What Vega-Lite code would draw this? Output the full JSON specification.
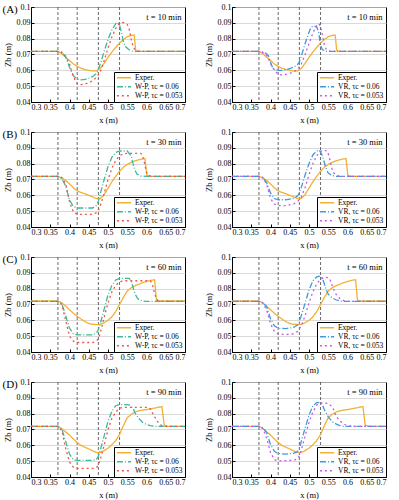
{
"$schema":"https://vega.github.io/schema/vega-lite/v6.json",
"padding":{"left":2,"top":2,"right":4,"bottom":2},
"datasets":{
"vlines":[{"x":0.37},{"x":0.42},{"x":0.475},{"x":0.53}],
"profiles":[
{"t":10,"s":"E","x":0.3,"z":0.072},{"t":10,"s":"E","x":0.37,"z":0.072},{"t":10,"s":"E","x":0.38,"z":0.0705},{"t":10,"s":"E","x":0.39,"z":0.0683},{"t":10,"s":"E","x":0.4,"z":0.0662},{"t":10,"s":"E","x":0.41,"z":0.064},{"t":10,"s":"E","x":0.42,"z":0.0625},{"t":10,"s":"E","x":0.43,"z":0.0613},{"t":10,"s":"E","x":0.44,"z":0.0605},{"t":10,"s":"E","x":0.45,"z":0.06},{"t":10,"s":"E","x":0.46,"z":0.0596},{"t":10,"s":"E","x":0.47,"z":0.0597},{"t":10,"s":"E","x":0.48,"z":0.0612},{"t":10,"s":"E","x":0.49,"z":0.0645},{"t":10,"s":"E","x":0.5,"z":0.0682},{"t":10,"s":"E","x":0.51,"z":0.0715},{"t":10,"s":"E","x":0.52,"z":0.0745},{"t":10,"s":"E","x":0.53,"z":0.0772},{"t":10,"s":"E","x":0.54,"z":0.0795},{"t":10,"s":"E","x":0.55,"z":0.0812},{"t":10,"s":"E","x":0.56,"z":0.0821},{"t":10,"s":"E","x":0.568,"z":0.0823},{"t":10,"s":"E","x":0.572,"z":0.0725},{"t":10,"s":"E","x":0.58,"z":0.072},{"t":10,"s":"E","x":0.7,"z":0.072},
{"t":10,"s":"W6","x":0.3,"z":0.072},{"t":10,"s":"W6","x":0.37,"z":0.072},{"t":10,"s":"W6","x":0.38,"z":0.0715},{"t":10,"s":"W6","x":0.39,"z":0.0685},{"t":10,"s":"W6","x":0.4,"z":0.062},{"t":10,"s":"W6","x":0.41,"z":0.0565},{"t":10,"s":"W6","x":0.42,"z":0.0545},{"t":10,"s":"W6","x":0.43,"z":0.054},{"t":10,"s":"W6","x":0.44,"z":0.0543},{"t":10,"s":"W6","x":0.45,"z":0.055},{"t":10,"s":"W6","x":0.46,"z":0.056},{"t":10,"s":"W6","x":0.47,"z":0.058},{"t":10,"s":"W6","x":0.475,"z":0.0605},{"t":10,"s":"W6","x":0.48,"z":0.064},{"t":10,"s":"W6","x":0.49,"z":0.072},{"t":10,"s":"W6","x":0.5,"z":0.0795},{"t":10,"s":"W6","x":0.51,"z":0.0855},{"t":10,"s":"W6","x":0.52,"z":0.0895},{"t":10,"s":"W6","x":0.525,"z":0.0903},{"t":10,"s":"W6","x":0.53,"z":0.0885},{"t":10,"s":"W6","x":0.535,"z":0.084},{"t":10,"s":"W6","x":0.54,"z":0.078},{"t":10,"s":"W6","x":0.545,"z":0.075},{"t":10,"s":"W6","x":0.555,"z":0.073},{"t":10,"s":"W6","x":0.565,"z":0.072},{"t":10,"s":"W6","x":0.7,"z":0.072},
{"t":10,"s":"W5","x":0.3,"z":0.072},{"t":10,"s":"W5","x":0.375,"z":0.072},{"t":10,"s":"W5","x":0.38,"z":0.0712},{"t":10,"s":"W5","x":0.39,"z":0.069},{"t":10,"s":"W5","x":0.4,"z":0.064},{"t":10,"s":"W5","x":0.41,"z":0.056},{"t":10,"s":"W5","x":0.42,"z":0.0515},{"t":10,"s":"W5","x":0.43,"z":0.051},{"t":10,"s":"W5","x":0.44,"z":0.0515},{"t":10,"s":"W5","x":0.45,"z":0.052},{"t":10,"s":"W5","x":0.46,"z":0.0535},{"t":10,"s":"W5","x":0.47,"z":0.0555},{"t":10,"s":"W5","x":0.48,"z":0.059},{"t":10,"s":"W5","x":0.49,"z":0.066},{"t":10,"s":"W5","x":0.5,"z":0.074},{"t":10,"s":"W5","x":0.51,"z":0.081},{"t":10,"s":"W5","x":0.52,"z":0.0865},{"t":10,"s":"W5","x":0.53,"z":0.0898},{"t":10,"s":"W5","x":0.54,"z":0.0902},{"t":10,"s":"W5","x":0.55,"z":0.089},{"t":10,"s":"W5","x":0.555,"z":0.086},{"t":10,"s":"W5","x":0.56,"z":0.08},{"t":10,"s":"W5","x":0.565,"z":0.075},{"t":10,"s":"W5","x":0.57,"z":0.073},{"t":10,"s":"W5","x":0.58,"z":0.072},{"t":10,"s":"W5","x":0.7,"z":0.072},
{"t":10,"s":"V6","x":0.3,"z":0.072},{"t":10,"s":"V6","x":0.37,"z":0.072},{"t":10,"s":"V6","x":0.38,"z":0.0715},{"t":10,"s":"V6","x":0.39,"z":0.0705},{"t":10,"s":"V6","x":0.395,"z":0.069},{"t":10,"s":"V6","x":0.4,"z":0.065},{"t":10,"s":"V6","x":0.405,"z":0.062},{"t":10,"s":"V6","x":0.41,"z":0.0605},{"t":10,"s":"V6","x":0.42,"z":0.06},{"t":10,"s":"V6","x":0.43,"z":0.06},{"t":10,"s":"V6","x":0.44,"z":0.0605},{"t":10,"s":"V6","x":0.45,"z":0.061},{"t":10,"s":"V6","x":0.46,"z":0.062},{"t":10,"s":"V6","x":0.47,"z":0.0635},{"t":10,"s":"V6","x":0.475,"z":0.0655},{"t":10,"s":"V6","x":0.48,"z":0.069},{"t":10,"s":"V6","x":0.49,"z":0.077},{"t":10,"s":"V6","x":0.5,"z":0.084},{"t":10,"s":"V6","x":0.505,"z":0.087},{"t":10,"s":"V6","x":0.51,"z":0.088},{"t":10,"s":"V6","x":0.52,"z":0.0875},{"t":10,"s":"V6","x":0.525,"z":0.084},{"t":10,"s":"V6","x":0.53,"z":0.076},{"t":10,"s":"V6","x":0.535,"z":0.073},{"t":10,"s":"V6","x":0.545,"z":0.072},{"t":10,"s":"V6","x":0.7,"z":0.072},
{"t":10,"s":"V5","x":0.3,"z":0.072},{"t":10,"s":"V5","x":0.37,"z":0.072},{"t":10,"s":"V5","x":0.38,"z":0.0712},{"t":10,"s":"V5","x":0.39,"z":0.0695},{"t":10,"s":"V5","x":0.4,"z":0.0645},{"t":10,"s":"V5","x":0.41,"z":0.06},{"t":10,"s":"V5","x":0.42,"z":0.0575},{"t":10,"s":"V5","x":0.43,"z":0.057},{"t":10,"s":"V5","x":0.44,"z":0.0575},{"t":10,"s":"V5","x":0.45,"z":0.058},{"t":10,"s":"V5","x":0.46,"z":0.059},{"t":10,"s":"V5","x":0.47,"z":0.0605},{"t":10,"s":"V5","x":0.48,"z":0.064},{"t":10,"s":"V5","x":0.49,"z":0.07},{"t":10,"s":"V5","x":0.5,"z":0.077},{"t":10,"s":"V5","x":0.51,"z":0.0835},{"t":10,"s":"V5","x":0.52,"z":0.0885},{"t":10,"s":"V5","x":0.525,"z":0.0895},{"t":10,"s":"V5","x":0.53,"z":0.088},{"t":10,"s":"V5","x":0.535,"z":0.082},{"t":10,"s":"V5","x":0.54,"z":0.076},{"t":10,"s":"V5","x":0.545,"z":0.073},{"t":10,"s":"V5","x":0.555,"z":0.072},{"t":10,"s":"V5","x":0.7,"z":0.072},

{"t":30,"s":"E","x":0.3,"z":0.072},{"t":30,"s":"E","x":0.37,"z":0.072},{"t":30,"s":"E","x":0.38,"z":0.071},{"t":30,"s":"E","x":0.39,"z":0.0695},{"t":30,"s":"E","x":0.4,"z":0.0672},{"t":30,"s":"E","x":0.41,"z":0.0648},{"t":30,"s":"E","x":0.42,"z":0.0628},{"t":30,"s":"E","x":0.43,"z":0.0618},{"t":30,"s":"E","x":0.44,"z":0.061},{"t":30,"s":"E","x":0.45,"z":0.06},{"t":30,"s":"E","x":0.46,"z":0.059},{"t":30,"s":"E","x":0.47,"z":0.058},{"t":30,"s":"E","x":0.48,"z":0.058},{"t":30,"s":"E","x":0.49,"z":0.0605},{"t":30,"s":"E","x":0.5,"z":0.0645},{"t":30,"s":"E","x":0.51,"z":0.0685},{"t":30,"s":"E","x":0.52,"z":0.072},{"t":30,"s":"E","x":0.53,"z":0.0752},{"t":30,"s":"E","x":0.54,"z":0.0778},{"t":30,"s":"E","x":0.55,"z":0.0795},{"t":30,"s":"E","x":0.56,"z":0.0808},{"t":30,"s":"E","x":0.57,"z":0.0818},{"t":30,"s":"E","x":0.58,"z":0.0825},{"t":30,"s":"E","x":0.59,"z":0.083},{"t":30,"s":"E","x":0.596,"z":0.0832},{"t":30,"s":"E","x":0.601,"z":0.0725},{"t":30,"s":"E","x":0.61,"z":0.072},{"t":30,"s":"E","x":0.7,"z":0.072},
{"t":30,"s":"W6","x":0.3,"z":0.072},{"t":30,"s":"W6","x":0.37,"z":0.072},{"t":30,"s":"W6","x":0.38,"z":0.0705},{"t":30,"s":"W6","x":0.39,"z":0.066},{"t":30,"s":"W6","x":0.4,"z":0.057},{"t":30,"s":"W6","x":0.41,"z":0.053},{"t":30,"s":"W6","x":0.42,"z":0.052},{"t":30,"s":"W6","x":0.46,"z":0.052},{"t":30,"s":"W6","x":0.47,"z":0.0535},{"t":30,"s":"W6","x":0.475,"z":0.0565},{"t":30,"s":"W6","x":0.48,"z":0.061},{"t":30,"s":"W6","x":0.49,"z":0.07},{"t":30,"s":"W6","x":0.5,"z":0.078},{"t":30,"s":"W6","x":0.51,"z":0.084},{"t":30,"s":"W6","x":0.52,"z":0.087},{"t":30,"s":"W6","x":0.53,"z":0.088},{"t":30,"s":"W6","x":0.55,"z":0.088},{"t":30,"s":"W6","x":0.56,"z":0.085},{"t":30,"s":"W6","x":0.565,"z":0.08},{"t":30,"s":"W6","x":0.57,"z":0.076},{"t":30,"s":"W6","x":0.575,"z":0.0735},{"t":30,"s":"W6","x":0.585,"z":0.0722},{"t":30,"s":"W6","x":0.6,"z":0.072},{"t":30,"s":"W6","x":0.7,"z":0.072},
{"t":30,"s":"W5","x":0.3,"z":0.072},{"t":30,"s":"W5","x":0.375,"z":0.072},{"t":30,"s":"W5","x":0.38,"z":0.0712},{"t":30,"s":"W5","x":0.39,"z":0.0675},{"t":30,"s":"W5","x":0.4,"z":0.056},{"t":30,"s":"W5","x":0.41,"z":0.0495},{"t":30,"s":"W5","x":0.42,"z":0.048},{"t":30,"s":"W5","x":0.46,"z":0.048},{"t":30,"s":"W5","x":0.47,"z":0.049},{"t":30,"s":"W5","x":0.475,"z":0.0505},{"t":30,"s":"W5","x":0.48,"z":0.0535},{"t":30,"s":"W5","x":0.49,"z":0.061},{"t":30,"s":"W5","x":0.5,"z":0.07},{"t":30,"s":"W5","x":0.51,"z":0.077},{"t":30,"s":"W5","x":0.52,"z":0.082},{"t":30,"s":"W5","x":0.53,"z":0.085},{"t":30,"s":"W5","x":0.54,"z":0.0862},{"t":30,"s":"W5","x":0.55,"z":0.0865},{"t":30,"s":"W5","x":0.585,"z":0.0865},{"t":30,"s":"W5","x":0.59,"z":0.085},{"t":30,"s":"W5","x":0.595,"z":0.08},{"t":30,"s":"W5","x":0.6,"z":0.0745},{"t":30,"s":"W5","x":0.605,"z":0.0725},{"t":30,"s":"W5","x":0.615,"z":0.072},{"t":30,"s":"W5","x":0.7,"z":0.072},
{"t":30,"s":"V6","x":0.3,"z":0.072},{"t":30,"s":"V6","x":0.375,"z":0.072},{"t":30,"s":"V6","x":0.38,"z":0.0712},{"t":30,"s":"V6","x":0.39,"z":0.068},{"t":30,"s":"V6","x":0.4,"z":0.0615},{"t":30,"s":"V6","x":0.41,"z":0.058},{"t":30,"s":"V6","x":0.42,"z":0.0572},{"t":30,"s":"V6","x":0.44,"z":0.0572},{"t":30,"s":"V6","x":0.46,"z":0.058},{"t":30,"s":"V6","x":0.47,"z":0.0595},{"t":30,"s":"V6","x":0.475,"z":0.0615},{"t":30,"s":"V6","x":0.48,"z":0.065},{"t":30,"s":"V6","x":0.49,"z":0.073},{"t":30,"s":"V6","x":0.5,"z":0.08},{"t":30,"s":"V6","x":0.51,"z":0.0855},{"t":30,"s":"V6","x":0.52,"z":0.088},{"t":30,"s":"V6","x":0.527,"z":0.0885},{"t":30,"s":"V6","x":0.535,"z":0.085},{"t":30,"s":"V6","x":0.543,"z":0.078},{"t":30,"s":"V6","x":0.55,"z":0.074},{"t":30,"s":"V6","x":0.56,"z":0.0725},{"t":30,"s":"V6","x":0.57,"z":0.072},{"t":30,"s":"V6","x":0.7,"z":0.072},
{"t":30,"s":"V5","x":0.3,"z":0.072},{"t":30,"s":"V5","x":0.375,"z":0.072},{"t":30,"s":"V5","x":0.38,"z":0.0712},{"t":30,"s":"V5","x":0.39,"z":0.067},{"t":30,"s":"V5","x":0.4,"z":0.058},{"t":30,"s":"V5","x":0.41,"z":0.0545},{"t":30,"s":"V5","x":0.42,"z":0.0535},{"t":30,"s":"V5","x":0.44,"z":0.0535},{"t":30,"s":"V5","x":0.46,"z":0.0545},{"t":30,"s":"V5","x":0.47,"z":0.056},{"t":30,"s":"V5","x":0.48,"z":0.059},{"t":30,"s":"V5","x":0.49,"z":0.065},{"t":30,"s":"V5","x":0.5,"z":0.073},{"t":30,"s":"V5","x":0.51,"z":0.08},{"t":30,"s":"V5","x":0.52,"z":0.085},{"t":30,"s":"V5","x":0.53,"z":0.0878},{"t":30,"s":"V5","x":0.54,"z":0.0885},{"t":30,"s":"V5","x":0.548,"z":0.0878},{"t":30,"s":"V5","x":0.553,"z":0.084},{"t":30,"s":"V5","x":0.558,"z":0.078},{"t":30,"s":"V5","x":0.563,"z":0.0745},{"t":30,"s":"V5","x":0.57,"z":0.0728},{"t":30,"s":"V5","x":0.58,"z":0.072},{"t":30,"s":"V5","x":0.7,"z":0.072},

{"t":60,"s":"E","x":0.3,"z":0.0722},{"t":60,"s":"E","x":0.37,"z":0.0722},{"t":60,"s":"E","x":0.38,"z":0.071},{"t":60,"s":"E","x":0.39,"z":0.069},{"t":60,"s":"E","x":0.4,"z":0.0667},{"t":60,"s":"E","x":0.41,"z":0.0645},{"t":60,"s":"E","x":0.42,"z":0.0625},{"t":60,"s":"E","x":0.43,"z":0.0608},{"t":60,"s":"E","x":0.44,"z":0.0592},{"t":60,"s":"E","x":0.45,"z":0.058},{"t":60,"s":"E","x":0.46,"z":0.0575},{"t":60,"s":"E","x":0.47,"z":0.0573},{"t":60,"s":"E","x":0.48,"z":0.0575},{"t":60,"s":"E","x":0.49,"z":0.0585},{"t":60,"s":"E","x":0.5,"z":0.06},{"t":60,"s":"E","x":0.51,"z":0.0622},{"t":60,"s":"E","x":0.52,"z":0.0655},{"t":60,"s":"E","x":0.53,"z":0.07},{"t":60,"s":"E","x":0.54,"z":0.0745},{"t":60,"s":"E","x":0.55,"z":0.0785},{"t":60,"s":"E","x":0.56,"z":0.0805},{"t":60,"s":"E","x":0.57,"z":0.0818},{"t":60,"s":"E","x":0.58,"z":0.0828},{"t":60,"s":"E","x":0.59,"z":0.0838},{"t":60,"s":"E","x":0.6,"z":0.0845},{"t":60,"s":"E","x":0.61,"z":0.0852},{"t":60,"s":"E","x":0.621,"z":0.0856},{"t":60,"s":"E","x":0.626,"z":0.0725},{"t":60,"s":"E","x":0.635,"z":0.0722},{"t":60,"s":"E","x":0.7,"z":0.0722},
{"t":60,"s":"W6","x":0.3,"z":0.072},{"t":60,"s":"W6","x":0.37,"z":0.072},{"t":60,"s":"W6","x":0.38,"z":0.0705},{"t":60,"s":"W6","x":0.39,"z":0.063},{"t":60,"s":"W6","x":0.4,"z":0.055},{"t":60,"s":"W6","x":0.41,"z":0.0515},{"t":60,"s":"W6","x":0.42,"z":0.0508},{"t":60,"s":"W6","x":0.46,"z":0.0508},{"t":60,"s":"W6","x":0.47,"z":0.052},{"t":60,"s":"W6","x":0.475,"z":0.054},{"t":60,"s":"W6","x":0.48,"z":0.058},{"t":60,"s":"W6","x":0.49,"z":0.067},{"t":60,"s":"W6","x":0.5,"z":0.076},{"t":60,"s":"W6","x":0.51,"z":0.082},{"t":60,"s":"W6","x":0.52,"z":0.0855},{"t":60,"s":"W6","x":0.53,"z":0.0865},{"t":60,"s":"W6","x":0.555,"z":0.0865},{"t":60,"s":"W6","x":0.56,"z":0.085},{"t":60,"s":"W6","x":0.565,"z":0.081},{"t":60,"s":"W6","x":0.57,"z":0.077},{"t":60,"s":"W6","x":0.575,"z":0.0745},{"t":60,"s":"W6","x":0.58,"z":0.073},{"t":60,"s":"W6","x":0.59,"z":0.0722},{"t":60,"s":"W6","x":0.6,"z":0.072},{"t":60,"s":"W6","x":0.7,"z":0.072},
{"t":60,"s":"W5","x":0.3,"z":0.072},{"t":60,"s":"W5","x":0.37,"z":0.072},{"t":60,"s":"W5","x":0.38,"z":0.07},{"t":60,"s":"W5","x":0.39,"z":0.06},{"t":60,"s":"W5","x":0.4,"z":0.05},{"t":60,"s":"W5","x":0.41,"z":0.0468},{"t":60,"s":"W5","x":0.42,"z":0.046},{"t":60,"s":"W5","x":0.46,"z":0.046},{"t":60,"s":"W5","x":0.47,"z":0.0468},{"t":60,"s":"W5","x":0.475,"z":0.0485},{"t":60,"s":"W5","x":0.48,"z":0.052},{"t":60,"s":"W5","x":0.49,"z":0.062},{"t":60,"s":"W5","x":0.5,"z":0.071},{"t":60,"s":"W5","x":0.51,"z":0.078},{"t":60,"s":"W5","x":0.52,"z":0.082},{"t":60,"s":"W5","x":0.53,"z":0.0843},{"t":60,"s":"W5","x":0.54,"z":0.085},{"t":60,"s":"W5","x":0.61,"z":0.085},{"t":60,"s":"W5","x":0.615,"z":0.083},{"t":60,"s":"W5","x":0.62,"z":0.078},{"t":60,"s":"W5","x":0.625,"z":0.074},{"t":60,"s":"W5","x":0.63,"z":0.0725},{"t":60,"s":"W5","x":0.64,"z":0.072},{"t":60,"s":"W5","x":0.7,"z":0.072},
{"t":60,"s":"V6","x":0.3,"z":0.072},{"t":60,"s":"V6","x":0.37,"z":0.072},{"t":60,"s":"V6","x":0.38,"z":0.0712},{"t":60,"s":"V6","x":0.39,"z":0.0685},{"t":60,"s":"V6","x":0.4,"z":0.061},{"t":60,"s":"V6","x":0.41,"z":0.0565},{"t":60,"s":"V6","x":0.42,"z":0.055},{"t":60,"s":"V6","x":0.44,"z":0.0548},{"t":60,"s":"V6","x":0.46,"z":0.0555},{"t":60,"s":"V6","x":0.47,"z":0.057},{"t":60,"s":"V6","x":0.475,"z":0.059},{"t":60,"s":"V6","x":0.48,"z":0.063},{"t":60,"s":"V6","x":0.49,"z":0.071},{"t":60,"s":"V6","x":0.5,"z":0.079},{"t":60,"s":"V6","x":0.51,"z":0.085},{"t":60,"s":"V6","x":0.52,"z":0.0875},{"t":60,"s":"V6","x":0.53,"z":0.088},{"t":60,"s":"V6","x":0.535,"z":0.0865},{"t":60,"s":"V6","x":0.54,"z":0.083},{"t":60,"s":"V6","x":0.545,"z":0.079},{"t":60,"s":"V6","x":0.55,"z":0.0765},{"t":60,"s":"V6","x":0.56,"z":0.0742},{"t":60,"s":"V6","x":0.57,"z":0.073},{"t":60,"s":"V6","x":0.58,"z":0.0722},{"t":60,"s":"V6","x":0.59,"z":0.072},{"t":60,"s":"V6","x":0.7,"z":0.072},
{"t":60,"s":"V5","x":0.3,"z":0.072},{"t":60,"s":"V5","x":0.37,"z":0.072},{"t":60,"s":"V5","x":0.38,"z":0.071},{"t":60,"s":"V5","x":0.39,"z":0.0665},{"t":60,"s":"V5","x":0.4,"z":0.058},{"t":60,"s":"V5","x":0.41,"z":0.053},{"t":60,"s":"V5","x":0.42,"z":0.0515},{"t":60,"s":"V5","x":0.44,"z":0.051},{"t":60,"s":"V5","x":0.46,"z":0.0515},{"t":60,"s":"V5","x":0.47,"z":0.053},{"t":60,"s":"V5","x":0.48,"z":0.0565},{"t":60,"s":"V5","x":0.49,"z":0.063},{"t":60,"s":"V5","x":0.5,"z":0.071},{"t":60,"s":"V5","x":0.51,"z":0.078},{"t":60,"s":"V5","x":0.52,"z":0.083},{"t":60,"s":"V5","x":0.53,"z":0.086},{"t":60,"s":"V5","x":0.54,"z":0.0872},{"t":60,"s":"V5","x":0.55,"z":0.087},{"t":60,"s":"V5","x":0.555,"z":0.0855},{"t":60,"s":"V5","x":0.56,"z":0.082},{"t":60,"s":"V5","x":0.565,"z":0.079},{"t":60,"s":"V5","x":0.57,"z":0.0765},{"t":60,"s":"V5","x":0.58,"z":0.0738},{"t":60,"s":"V5","x":0.59,"z":0.0725},{"t":60,"s":"V5","x":0.6,"z":0.072},{"t":60,"s":"V5","x":0.7,"z":0.072},

{"t":90,"s":"E","x":0.3,"z":0.072},{"t":90,"s":"E","x":0.37,"z":0.072},{"t":90,"s":"E","x":0.38,"z":0.0705},{"t":90,"s":"E","x":0.39,"z":0.0685},{"t":90,"s":"E","x":0.4,"z":0.0665},{"t":90,"s":"E","x":0.41,"z":0.064},{"t":90,"s":"E","x":0.42,"z":0.0617},{"t":90,"s":"E","x":0.43,"z":0.06},{"t":90,"s":"E","x":0.44,"z":0.0588},{"t":90,"s":"E","x":0.45,"z":0.0577},{"t":90,"s":"E","x":0.46,"z":0.0565},{"t":90,"s":"E","x":0.47,"z":0.0555},{"t":90,"s":"E","x":0.475,"z":0.0553},{"t":90,"s":"E","x":0.48,"z":0.0555},{"t":90,"s":"E","x":0.49,"z":0.0567},{"t":90,"s":"E","x":0.5,"z":0.0582},{"t":90,"s":"E","x":0.51,"z":0.0603},{"t":90,"s":"E","x":0.52,"z":0.063},{"t":90,"s":"E","x":0.53,"z":0.0668},{"t":90,"s":"E","x":0.54,"z":0.0725},{"t":90,"s":"E","x":0.55,"z":0.0775},{"t":90,"s":"E","x":0.56,"z":0.0795},{"t":90,"s":"E","x":0.57,"z":0.081},{"t":90,"s":"E","x":0.58,"z":0.0818},{"t":90,"s":"E","x":0.59,"z":0.0823},{"t":90,"s":"E","x":0.6,"z":0.0826},{"t":90,"s":"E","x":0.61,"z":0.083},{"t":90,"s":"E","x":0.62,"z":0.0835},{"t":90,"s":"E","x":0.63,"z":0.084},{"t":90,"s":"E","x":0.64,"z":0.0845},{"t":90,"s":"E","x":0.646,"z":0.0728},{"t":90,"s":"E","x":0.655,"z":0.072},{"t":90,"s":"E","x":0.7,"z":0.072},
{"t":90,"s":"W6","x":0.3,"z":0.072},{"t":90,"s":"W6","x":0.37,"z":0.072},{"t":90,"s":"W6","x":0.38,"z":0.0705},{"t":90,"s":"W6","x":0.39,"z":0.0625},{"t":90,"s":"W6","x":0.4,"z":0.0545},{"t":90,"s":"W6","x":0.41,"z":0.051},{"t":90,"s":"W6","x":0.42,"z":0.0505},{"t":90,"s":"W6","x":0.46,"z":0.0505},{"t":90,"s":"W6","x":0.47,"z":0.0512},{"t":90,"s":"W6","x":0.475,"z":0.053},{"t":90,"s":"W6","x":0.48,"z":0.057},{"t":90,"s":"W6","x":0.49,"z":0.066},{"t":90,"s":"W6","x":0.5,"z":0.075},{"t":90,"s":"W6","x":0.51,"z":0.0815},{"t":90,"s":"W6","x":0.52,"z":0.085},{"t":90,"s":"W6","x":0.53,"z":0.0858},{"t":90,"s":"W6","x":0.555,"z":0.0855},{"t":90,"s":"W6","x":0.565,"z":0.0835},{"t":90,"s":"W6","x":0.57,"z":0.0805},{"t":90,"s":"W6","x":0.58,"z":0.077},{"t":90,"s":"W6","x":0.59,"z":0.0745},{"t":90,"s":"W6","x":0.6,"z":0.0732},{"t":90,"s":"W6","x":0.61,"z":0.0725},{"t":90,"s":"W6","x":0.62,"z":0.072},{"t":90,"s":"W6","x":0.7,"z":0.072},
{"t":90,"s":"W5","x":0.3,"z":0.072},{"t":90,"s":"W5","x":0.37,"z":0.072},{"t":90,"s":"W5","x":0.38,"z":0.0695},{"t":90,"s":"W5","x":0.39,"z":0.058},{"t":90,"s":"W5","x":0.4,"z":0.0495},{"t":90,"s":"W5","x":0.41,"z":0.0462},{"t":90,"s":"W5","x":0.42,"z":0.0455},{"t":90,"s":"W5","x":0.465,"z":0.0455},{"t":90,"s":"W5","x":0.47,"z":0.046},{"t":90,"s":"W5","x":0.475,"z":0.0475},{"t":90,"s":"W5","x":0.48,"z":0.051},{"t":90,"s":"W5","x":0.49,"z":0.06},{"t":90,"s":"W5","x":0.5,"z":0.07},{"t":90,"s":"W5","x":0.51,"z":0.077},{"t":90,"s":"W5","x":0.52,"z":0.081},{"t":90,"s":"W5","x":0.53,"z":0.0835},{"t":90,"s":"W5","x":0.54,"z":0.084},{"t":90,"s":"W5","x":0.605,"z":0.084},{"t":90,"s":"W5","x":0.61,"z":0.083},{"t":90,"s":"W5","x":0.62,"z":0.0785},{"t":90,"s":"W5","x":0.63,"z":0.0745},{"t":90,"s":"W5","x":0.635,"z":0.073},{"t":90,"s":"W5","x":0.645,"z":0.072},{"t":90,"s":"W5","x":0.7,"z":0.072},
{"t":90,"s":"V6","x":0.3,"z":0.072},{"t":90,"s":"V6","x":0.37,"z":0.072},{"t":90,"s":"V6","x":0.38,"z":0.0712},{"t":90,"s":"V6","x":0.39,"z":0.068},{"t":90,"s":"V6","x":0.4,"z":0.0605},{"t":90,"s":"V6","x":0.41,"z":0.0562},{"t":90,"s":"V6","x":0.42,"z":0.0548},{"t":90,"s":"V6","x":0.44,"z":0.0545},{"t":90,"s":"V6","x":0.46,"z":0.055},{"t":90,"s":"V6","x":0.47,"z":0.056},{"t":90,"s":"V6","x":0.475,"z":0.058},{"t":90,"s":"V6","x":0.48,"z":0.0625},{"t":90,"s":"V6","x":0.49,"z":0.071},{"t":90,"s":"V6","x":0.5,"z":0.079},{"t":90,"s":"V6","x":0.51,"z":0.085},{"t":90,"s":"V6","x":0.52,"z":0.087},{"t":90,"s":"V6","x":0.53,"z":0.087},{"t":90,"s":"V6","x":0.535,"z":0.0855},{"t":90,"s":"V6","x":0.54,"z":0.0825},{"t":90,"s":"V6","x":0.55,"z":0.078},{"t":90,"s":"V6","x":0.56,"z":0.075},{"t":90,"s":"V6","x":0.57,"z":0.0735},{"t":90,"s":"V6","x":0.58,"z":0.0725},{"t":90,"s":"V6","x":0.59,"z":0.072},{"t":90,"s":"V6","x":0.7,"z":0.072},
{"t":90,"s":"V5","x":0.3,"z":0.072},{"t":90,"s":"V5","x":0.37,"z":0.072},{"t":90,"s":"V5","x":0.38,"z":0.0708},{"t":90,"s":"V5","x":0.39,"z":0.0645},{"t":90,"s":"V5","x":0.4,"z":0.0555},{"t":90,"s":"V5","x":0.41,"z":0.051},{"t":90,"s":"V5","x":0.42,"z":0.0502},{"t":90,"s":"V5","x":0.46,"z":0.0505},{"t":90,"s":"V5","x":0.47,"z":0.0515},{"t":90,"s":"V5","x":0.475,"z":0.0535},{"t":90,"s":"V5","x":0.48,"z":0.057},{"t":90,"s":"V5","x":0.49,"z":0.066},{"t":90,"s":"V5","x":0.5,"z":0.0745},{"t":90,"s":"V5","x":0.51,"z":0.081},{"t":90,"s":"V5","x":0.52,"z":0.0855},{"t":90,"s":"V5","x":0.53,"z":0.0868},{"t":90,"s":"V5","x":0.55,"z":0.0865},{"t":90,"s":"V5","x":0.56,"z":0.0845},{"t":90,"s":"V5","x":0.565,"z":0.082},{"t":90,"s":"V5","x":0.57,"z":0.0785},{"t":90,"s":"V5","x":0.58,"z":0.0755},{"t":90,"s":"V5","x":0.59,"z":0.0735},{"t":90,"s":"V5","x":0.6,"z":0.0725},{"t":90,"s":"V5","x":0.61,"z":0.072},{"t":90,"s":"V5","x":0.7,"z":0.072}
]},
"config":{
 "font":"Liberation Serif",
 "view":{"stroke":"black","strokeWidth":1},
 "axis":{"labelFontSize":8,"titleFontSize":8.5,"titleFontWeight":"normal","labelColor":"black","titleColor":"black","domainColor":"black","tickColor":"black","tickSize":-3,"labelPadding":4,"gridColor":"#cfcfcf","gridWidth":0.8,"labelFont":"Liberation Serif","titleFont":"Liberation Serif"},
 "legend":{"orient":"bottom-right","offset":0,"fillColor":"white","strokeColor":"black","padding":2,"labelFontSize":7.5,"labelFont":"Liberation Serif","symbolType":"stroke","symbolSize":200,"symbolStrokeWidth":1.5,"rowPadding":0,"clipHeight":7.5,"labelOffset":3,"labelLimit":200},
 "title":{"font":"Liberation Serif","fontWeight":"normal","fontSize":8.5,"color":"black"}
},
"spacing":3,
"resolve":{"scale":{"color":"independent","strokeDash":"independent"}},
"vconcat":[
 {"title":{"text":"(A)","anchor":"start","frame":"bounds","fontSize":11,"offset":-12},
  "spacing":14,
  "resolve":{"scale":{"color":"independent","strokeDash":"independent"}},
  "hconcat":[
  {"width":154,"height":95,"title":{"text":"t = 10 min","anchor":"end","offset":-18,"dx":-6},
   "layer":[
    {"data":{"name":"vlines"},"mark":{"type":"rule","strokeDash":[3,2],"color":"#444","strokeWidth":0.8},"encoding":{"x":{"field":"x","type":"quantitative","scale":{"domain":[0.3,0.7],"nice":false},"axis":{"title":"x (m)","tickCount":8,"format":".2~f","grid":false}}}},
    {"data":{"name":"profiles"},"transform":[{"filter":"datum.t==10 && (datum.s=='E'||datum.s=='W6'||datum.s=='W5')"}],
     "mark":{"type":"line","strokeWidth":1.3},
     "encoding":{"x":{"field":"x","type":"quantitative","scale":{"domain":[0.3,0.7],"nice":false},"axis":{"title":"x (m)","tickCount":8,"format":".2~f","grid":false}},
      "y":{"field":"z","type":"quantitative","scale":{"domain":[0.04,0.1],"nice":false},"axis":{"title":"Zb (m)","tickCount":6,"format":".2~f","grid":true}},
      "color":{"field":"s","type":"nominal","scale":{"domain":["E","W6","W5"],"range":["#f2b134","#3cb89b","#ef5544"]},"legend":{"title":null,"labelExpr":"datum.label=='E'?'Exper.':datum.label=='W6'?'W-P, τc = 0.06':'W-P, τc = 0.053'"}},
      "strokeDash":{"field":"s","type":"nominal","scale":{"domain":["E","W6","W5"],"range":[[1,0],[6,2,1,2],[2,3]]},"legend":{"title":null,"labelExpr":"datum.label=='E'?'Exper.':datum.label=='W6'?'W-P, τc = 0.06':'W-P, τc = 0.053'"}}}}
   ]},
  {"width":154,"height":95,"title":{"text":"t = 10 min","anchor":"end","offset":-18,"dx":-6},
   "layer":[
    {"data":{"name":"vlines"},"mark":{"type":"rule","strokeDash":[3,2],"color":"#444","strokeWidth":0.8},"encoding":{"x":{"field":"x","type":"quantitative","scale":{"domain":[0.3,0.7],"nice":false},"axis":{"title":"x (m)","tickCount":8,"format":".2~f","grid":false}}}},
    {"data":{"name":"profiles"},"transform":[{"filter":"datum.t==10 && (datum.s=='E'||datum.s=='V6'||datum.s=='V5')"}],
     "mark":{"type":"line","strokeWidth":1.3},
     "encoding":{"x":{"field":"x","type":"quantitative","scale":{"domain":[0.3,0.7],"nice":false},"axis":{"title":"x (m)","tickCount":8,"format":".2~f","grid":false}},
      "y":{"field":"z","type":"quantitative","scale":{"domain":[0.04,0.1],"nice":false},"axis":{"title":"Zb (m)","tickCount":6,"format":".2~f","grid":true}},
      "color":{"field":"s","type":"nominal","scale":{"domain":["E","V6","V5"],"range":["#f2b134","#3d9bd6","#c55ae6"]},"legend":{"title":null,"labelExpr":"datum.label=='E'?'Exper.':datum.label=='V6'?'VR, τc = 0.06':'VR, τc = 0.053'"}},
      "strokeDash":{"field":"s","type":"nominal","scale":{"domain":["E","V6","V5"],"range":[[1,0],[6,2,1,2],[2,3]]},"legend":{"title":null,"labelExpr":"datum.label=='E'?'Exper.':datum.label=='V6'?'VR, τc = 0.06':'VR, τc = 0.053'"}}}}
   ]}
 ]},
 {"title":{"text":"(B)","anchor":"start","frame":"bounds","fontSize":11,"offset":-12},
  "spacing":14,
  "resolve":{"scale":{"color":"independent","strokeDash":"independent"}},
  "hconcat":[
  {"width":154,"height":95,"title":{"text":"t = 30 min","anchor":"end","offset":-18,"dx":-6},
   "layer":[
    {"data":{"name":"vlines"},"mark":{"type":"rule","strokeDash":[3,2],"color":"#444","strokeWidth":0.8},"encoding":{"x":{"field":"x","type":"quantitative","scale":{"domain":[0.3,0.7],"nice":false},"axis":{"title":"x (m)","tickCount":8,"format":".2~f","grid":false}}}},
    {"data":{"name":"profiles"},"transform":[{"filter":"datum.t==30 && (datum.s=='E'||datum.s=='W6'||datum.s=='W5')"}],
     "mark":{"type":"line","strokeWidth":1.3},
     "encoding":{"x":{"field":"x","type":"quantitative","scale":{"domain":[0.3,0.7],"nice":false},"axis":{"title":"x (m)","tickCount":8,"format":".2~f","grid":false}},
      "y":{"field":"z","type":"quantitative","scale":{"domain":[0.04,0.1],"nice":false},"axis":{"title":"Zb (m)","tickCount":6,"format":".2~f","grid":true}},
      "color":{"field":"s","type":"nominal","scale":{"domain":["E","W6","W5"],"range":["#f2b134","#3cb89b","#ef5544"]},"legend":{"title":null,"labelExpr":"datum.label=='E'?'Exper.':datum.label=='W6'?'W-P, τc = 0.06':'W-P, τc = 0.053'"}},
      "strokeDash":{"field":"s","type":"nominal","scale":{"domain":["E","W6","W5"],"range":[[1,0],[6,2,1,2],[2,3]]},"legend":{"title":null,"labelExpr":"datum.label=='E'?'Exper.':datum.label=='W6'?'W-P, τc = 0.06':'W-P, τc = 0.053'"}}}}
   ]},
  {"width":154,"height":95,"title":{"text":"t = 30 min","anchor":"end","offset":-18,"dx":-6},
   "layer":[
    {"data":{"name":"vlines"},"mark":{"type":"rule","strokeDash":[3,2],"color":"#444","strokeWidth":0.8},"encoding":{"x":{"field":"x","type":"quantitative","scale":{"domain":[0.3,0.7],"nice":false},"axis":{"title":"x (m)","tickCount":8,"format":".2~f","grid":false}}}},
    {"data":{"name":"profiles"},"transform":[{"filter":"datum.t==30 && (datum.s=='E'||datum.s=='V6'||datum.s=='V5')"}],
     "mark":{"type":"line","strokeWidth":1.3},
     "encoding":{"x":{"field":"x","type":"quantitative","scale":{"domain":[0.3,0.7],"nice":false},"axis":{"title":"x (m)","tickCount":8,"format":".2~f","grid":false}},
      "y":{"field":"z","type":"quantitative","scale":{"domain":[0.04,0.1],"nice":false},"axis":{"title":"Zb (m)","tickCount":6,"format":".2~f","grid":true}},
      "color":{"field":"s","type":"nominal","scale":{"domain":["E","V6","V5"],"range":["#f2b134","#3d9bd6","#c55ae6"]},"legend":{"title":null,"labelExpr":"datum.label=='E'?'Exper.':datum.label=='V6'?'VR, τc = 0.06':'VR, τc = 0.053'"}},
      "strokeDash":{"field":"s","type":"nominal","scale":{"domain":["E","V6","V5"],"range":[[1,0],[6,2,1,2],[2,3]]},"legend":{"title":null,"labelExpr":"datum.label=='E'?'Exper.':datum.label=='V6'?'VR, τc = 0.06':'VR, τc = 0.053'"}}}}
   ]}
 ]},
 {"title":{"text":"(C)","anchor":"start","frame":"bounds","fontSize":11,"offset":-12},
  "spacing":14,
  "resolve":{"scale":{"color":"independent","strokeDash":"independent"}},
  "hconcat":[
  {"width":154,"height":95,"title":{"text":"t = 60 min","anchor":"end","offset":-18,"dx":-6},
   "layer":[
    {"data":{"name":"vlines"},"mark":{"type":"rule","strokeDash":[3,2],"color":"#444","strokeWidth":0.8},"encoding":{"x":{"field":"x","type":"quantitative","scale":{"domain":[0.3,0.7],"nice":false},"axis":{"title":"x (m)","tickCount":8,"format":".2~f","grid":false}}}},
    {"data":{"name":"profiles"},"transform":[{"filter":"datum.t==60 && (datum.s=='E'||datum.s=='W6'||datum.s=='W5')"}],
     "mark":{"type":"line","strokeWidth":1.3},
     "encoding":{"x":{"field":"x","type":"quantitative","scale":{"domain":[0.3,0.7],"nice":false},"axis":{"title":"x (m)","tickCount":8,"format":".2~f","grid":false}},
      "y":{"field":"z","type":"quantitative","scale":{"domain":[0.04,0.1],"nice":false},"axis":{"title":"Zb (m)","tickCount":6,"format":".2~f","grid":true}},
      "color":{"field":"s","type":"nominal","scale":{"domain":["E","W6","W5"],"range":["#f2b134","#3cb89b","#ef5544"]},"legend":{"title":null,"labelExpr":"datum.label=='E'?'Exper.':datum.label=='W6'?'W-P, τc = 0.06':'W-P, τc = 0.053'"}},
      "strokeDash":{"field":"s","type":"nominal","scale":{"domain":["E","W6","W5"],"range":[[1,0],[6,2,1,2],[2,3]]},"legend":{"title":null,"labelExpr":"datum.label=='E'?'Exper.':datum.label=='W6'?'W-P, τc = 0.06':'W-P, τc = 0.053'"}}}}
   ]},
  {"width":154,"height":95,"title":{"text":"t = 60 min","anchor":"end","offset":-18,"dx":-6},
   "layer":[
    {"data":{"name":"vlines"},"mark":{"type":"rule","strokeDash":[3,2],"color":"#444","strokeWidth":0.8},"encoding":{"x":{"field":"x","type":"quantitative","scale":{"domain":[0.3,0.7],"nice":false},"axis":{"title":"x (m)","tickCount":8,"format":".2~f","grid":false}}}},
    {"data":{"name":"profiles"},"transform":[{"filter":"datum.t==60 && (datum.s=='E'||datum.s=='V6'||datum.s=='V5')"}],
     "mark":{"type":"line","strokeWidth":1.3},
     "encoding":{"x":{"field":"x","type":"quantitative","scale":{"domain":[0.3,0.7],"nice":false},"axis":{"title":"x (m)","tickCount":8,"format":".2~f","grid":false}},
      "y":{"field":"z","type":"quantitative","scale":{"domain":[0.04,0.1],"nice":false},"axis":{"title":"Zb (m)","tickCount":6,"format":".2~f","grid":true}},
      "color":{"field":"s","type":"nominal","scale":{"domain":["E","V6","V5"],"range":["#f2b134","#3d9bd6","#c55ae6"]},"legend":{"title":null,"labelExpr":"datum.label=='E'?'Exper.':datum.label=='V6'?'VR, τc = 0.06':'VR, τc = 0.053'"}},
      "strokeDash":{"field":"s","type":"nominal","scale":{"domain":["E","V6","V5"],"range":[[1,0],[6,2,1,2],[2,3]]},"legend":{"title":null,"labelExpr":"datum.label=='E'?'Exper.':datum.label=='V6'?'VR, τc = 0.06':'VR, τc = 0.053'"}}}}
   ]}
 ]},
 {"title":{"text":"(D)","anchor":"start","frame":"bounds","fontSize":11,"offset":-12},
  "spacing":14,
  "resolve":{"scale":{"color":"independent","strokeDash":"independent"}},
  "hconcat":[
  {"width":154,"height":95,"title":{"text":"t = 90 min","anchor":"end","offset":-18,"dx":-6},
   "layer":[
    {"data":{"name":"vlines"},"mark":{"type":"rule","strokeDash":[3,2],"color":"#444","strokeWidth":0.8},"encoding":{"x":{"field":"x","type":"quantitative","scale":{"domain":[0.3,0.7],"nice":false},"axis":{"title":"x (m)","tickCount":8,"format":".2~f","grid":false}}}},
    {"data":{"name":"profiles"},"transform":[{"filter":"datum.t==90 && (datum.s=='E'||datum.s=='W6'||datum.s=='W5')"}],
     "mark":{"type":"line","strokeWidth":1.3},
     "encoding":{"x":{"field":"x","type":"quantitative","scale":{"domain":[0.3,0.7],"nice":false},"axis":{"title":"x (m)","tickCount":8,"format":".2~f","grid":false}},
      "y":{"field":"z","type":"quantitative","scale":{"domain":[0.04,0.1],"nice":false},"axis":{"title":"Zb (m)","tickCount":6,"format":".2~f","grid":true}},
      "color":{"field":"s","type":"nominal","scale":{"domain":["E","W6","W5"],"range":["#f2b134","#3cb89b","#ef5544"]},"legend":{"title":null,"labelExpr":"datum.label=='E'?'Exper.':datum.label=='W6'?'W-P, τc = 0.06':'W-P, τc = 0.053'"}},
      "strokeDash":{"field":"s","type":"nominal","scale":{"domain":["E","W6","W5"],"range":[[1,0],[6,2,1,2],[2,3]]},"legend":{"title":null,"labelExpr":"datum.label=='E'?'Exper.':datum.label=='W6'?'W-P, τc = 0.06':'W-P, τc = 0.053'"}}}}
   ]},
  {"width":154,"height":95,"title":{"text":"t = 90 min","anchor":"end","offset":-18,"dx":-6},
   "layer":[
    {"data":{"name":"vlines"},"mark":{"type":"rule","strokeDash":[3,2],"color":"#444","strokeWidth":0.8},"encoding":{"x":{"field":"x","type":"quantitative","scale":{"domain":[0.3,0.7],"nice":false},"axis":{"title":"x (m)","tickCount":8,"format":".2~f","grid":false}}}},
    {"data":{"name":"profiles"},"transform":[{"filter":"datum.t==90 && (datum.s=='E'||datum.s=='V6'||datum.s=='V5')"}],
     "mark":{"type":"line","strokeWidth":1.3},
     "encoding":{"x":{"field":"x","type":"quantitative","scale":{"domain":[0.3,0.7],"nice":false},"axis":{"title":"x (m)","tickCount":8,"format":".2~f","grid":false}},
      "y":{"field":"z","type":"quantitative","scale":{"domain":[0.04,0.1],"nice":false},"axis":{"title":"Zb (m)","tickCount":6,"format":".2~f","grid":true}},
      "color":{"field":"s","type":"nominal","scale":{"domain":["E","V6","V5"],"range":["#f2b134","#3d9bd6","#c55ae6"]},"legend":{"title":null,"labelExpr":"datum.label=='E'?'Exper.':datum.label=='V6'?'VR, τc = 0.06':'VR, τc = 0.053'"}},
      "strokeDash":{"field":"s","type":"nominal","scale":{"domain":["E","V6","V5"],"range":[[1,0],[6,2,1,2],[2,3]]},"legend":{"title":null,"labelExpr":"datum.label=='E'?'Exper.':datum.label=='V6'?'VR, τc = 0.06':'VR, τc = 0.053'"}}}}
   ]}
 ]}
]
}
